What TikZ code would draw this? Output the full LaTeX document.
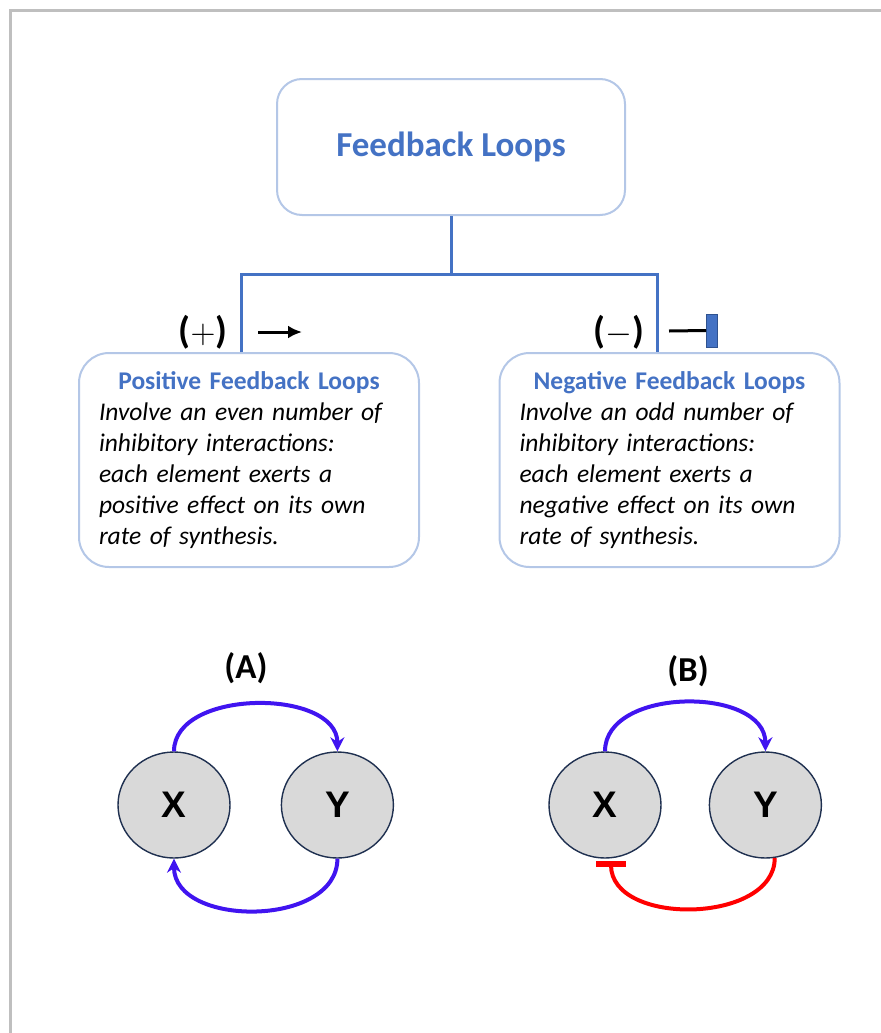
\documentclass[tikz,border=0pt]{standalone}
\usepackage{fontspec}
\setmainfont{Carlito}
\newfontfamily\xyfont{Liberation Sans}
\usetikzlibrary{shapes.geometric,arrows.meta,positioning}

\definecolor{fbblue}{HTML}{4472C4}
\definecolor{fbpale}{HTML}{B4C7E7}
\definecolor{fbframe}{HTML}{BFBFBF}
\definecolor{fbloop}{HTML}{4014F0}
\definecolor{fbgray}{HTML}{D9D9D9}
\definecolor{fbedge}{HTML}{1F3050}
\definecolor{fbdark}{HTML}{2F528F}

\tikzset{
  roundbox/.style={draw=fbpale, line width=1pt, rounded corners=15pt, fill=white},
  branch/.style={draw=fbblue, line width=1.5pt},
  sign/.style={font=\bfseries\fontsize{19}{21}\selectfont},
  species/.style={ellipse, draw=fbedge, line width=0.7pt, fill=fbgray,
    minimum width=56pt, minimum height=53pt, inner sep=0pt,
    font=\xyfont\bfseries\fontsize{18.5}{20}\selectfont},
  activ/.style={draw=fbloop, line width=2pt, -{Stealth[length=7pt,width=7pt]}},
  repress/.style={draw=red, line width=2pt, -{Bar[width=15pt,line width=3pt]}},
}

\begin{document}
\begin{tikzpicture}[x=0.5pt, y=-0.5pt]
  \useasboundingbox (0,0) rectangle (881,1033);
  \draw[fbframe, line width=1.5pt] (10,1040) -- (10,10) -- (890,10);

  % heading and the two kinds of loop
  \node [roundbox, rounded corners=12.5pt, minimum width=174pt, minimum height=68pt,
    font=\bfseries\fontsize{17.5}{21}\selectfont, text=fbblue] (title) at (451,147) {Feedback Loops};
  \node [roundbox, text width=150pt, inner xsep=10pt, minimum height=107pt, align=left,
    font=\fontsize{12.75}{15.5}\selectfont] (posbox) at (249,460)
    {{\centering\bfseries\color{fbblue}Positive Feedback Loops\par}
     \itshape Involve an even number of\\ inhibitory interactions:\\ each element exerts a\\
     positive effect on its own\\ rate of synthesis.};
  \node [roundbox, text width=150pt, inner xsep=10pt, minimum height=107pt, align=left,
    font=\fontsize{12.75}{15.5}\selectfont] (negbox) at (669.5,460)
    {{\centering\bfseries\color{fbblue}Negative Feedback Loops\par}
     \itshape Involve an odd number of\\ inhibitory interactions:\\ each element exerts a\\
     negative effect on its own\\ rate of synthesis.};

  \draw [branch] (title.south) -- ++(0,58) coordinate (fork);
  \draw [branch] ([xshift=-4pt]posbox.north) |- (fork) -| ([xshift=-6.25pt]negbox.north);

  % signs
  \node [sign] (plus) at (203,332) {($+$)};
  \node [sign] (minus) at (619,332) {($-$)};
  \coordinate (actfrom) at (258,332);
  \coordinate (actto) at (302,332);
  \draw [line width=1.5pt, -{Latex[length=7pt,width=6.5pt]}] (actfrom) -- (actto);
  \node [draw=fbdark, fill=fbblue, line width=0.5pt, minimum width=5.5pt, minimum height=16.5pt,
    inner sep=0pt] (block) at (712,330.5) {};
  \coordinate (inhfrom) at (669,331);
  \draw [line width=1.5pt] (inhfrom) -- (block.west);

  % two-node circuits
  \node [sign, font=\bfseries\fontsize{17.5}{20}\selectfont] (capA) at (246,668) {(A)};
  \node [sign, font=\bfseries\fontsize{17.5}{20}\selectfont] (capB) at (688,671) {(B)};
  \node [species] (xa) at (174,805) {X};
  \node [species, right=25pt of xa] (ya) {Y};
  \node [species] (xb) at (605,805) {X};
  \node [species, right=23.5pt of xb] (yb) {Y};

  \draw [activ] (xa.north) .. controls +(0,-63) and +(0,-63) .. (ya.north);
  \draw [activ] (ya.south) .. controls +(0,69) and +(0,69) .. (xa.south);
  \draw [activ] (xb.north) .. controls +(0,-65) and +(0,-65) .. (yb.north);
  \draw [repress] (yb.-80) .. controls +(0,66) and +(0,66) .. ([xshift=3pt,yshift=-1pt]xb.south);
\end{tikzpicture}
\end{document}
